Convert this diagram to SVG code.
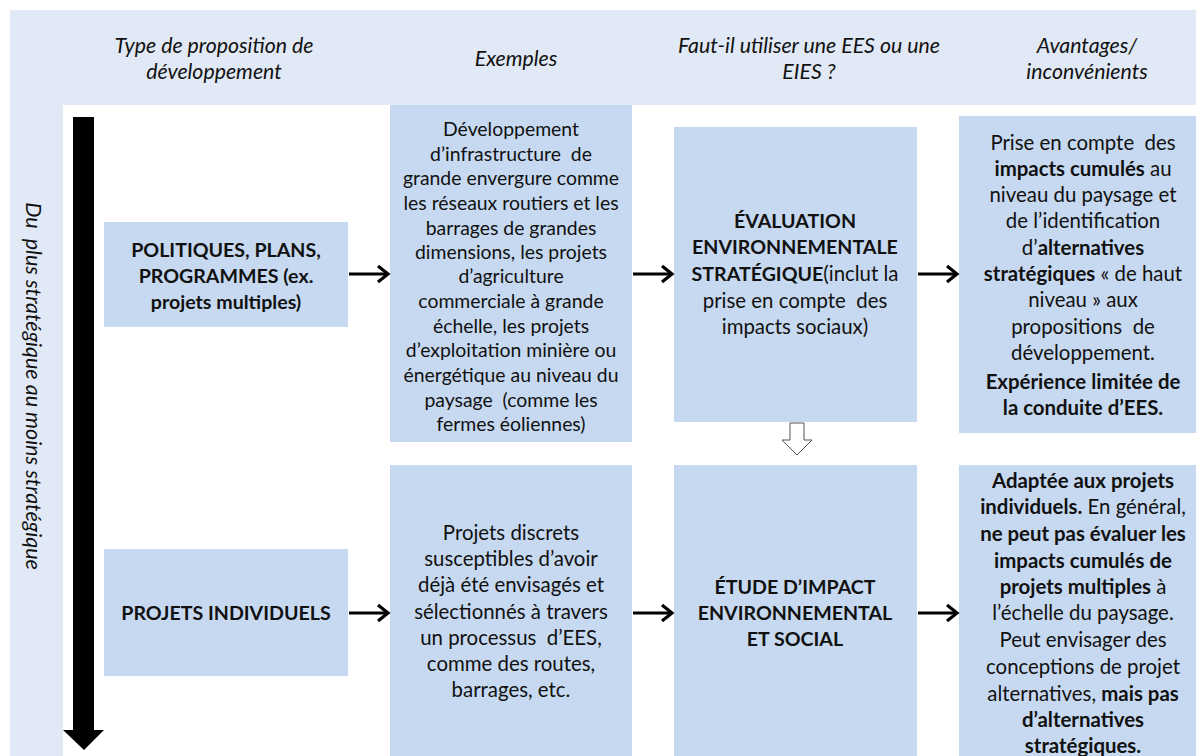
<svg xmlns="http://www.w3.org/2000/svg" width="1196" height="756" viewBox="0 0 1196 756">
<style>
.band{fill:#e1e9f6}
.box{fill:#c6d9f0}
text{font-family:Lato,"Open Sans","Liberation Sans",sans-serif;font-size:20.4px;fill:#111;text-anchor:middle}
.hd{font-style:italic;font-size:21.3px}
.rot{font-style:italic;font-size:21.5px}
.ex1 text{font-size:19.4px}
.b{font-weight:bold}
.lb{font-weight:bold;font-size:19.6px}
.conn{stroke:#000;stroke-width:3;fill:none}
</style>
<defs>
<marker id="chev" markerUnits="userSpaceOnUse" markerWidth="16" markerHeight="20" refX="13" refY="10" orient="auto" viewBox="0 0 16 20">
<path d="M3,2 L13,10 L3,18" fill="none" stroke="#000" stroke-width="3.2" stroke-linejoin="miter"/>
</marker>
</defs>
<rect width="1196" height="756" fill="#fff"/>
<g id="header">
<rect class="band" x="10" y="10" width="1186" height="95"/>
<rect class="band" x="10" y="10" width="53" height="746"/>
<text class="hd" x="214" y="53">Type de proposition de</text>
<text class="hd" x="214" y="79">développement</text>
<text class="hd" x="516" y="66">Exemples</text>
<text class="hd" x="809" y="53">Faut-il utiliser une EES ou une</text>
<text class="hd" x="809" y="79">EIES ?</text>
<text class="hd" x="1087" y="53">Avantages/</text>
<text class="hd" x="1087" y="79">inconvénients</text>
<text class="rot" xml:space="preserve" transform="translate(26,386) rotate(90)" x="0" y="0">Du  plus stratégique au moins stratégique</text>
</g>
<g id="axis-arrow">
<polygon points="73,117 94,117 94,730 104,730 84,750 63,730 73,730" fill="#000"/>
</g>
<g id="ppp">
<rect class="box" x="104" y="222" width="244" height="105"/>
<text class="lb" x="226" y="257">POLITIQUES, PLANS,</text>
<text class="lb" x="226" y="283">PROGRAMMES (ex.</text>
<text class="lb" x="226" y="309">projets multiples)</text>
</g>
<g id="ex1" class="ex1">
<rect class="box" x="390" y="105" width="242" height="337"/>
<text x="511" y="136">Développement</text>
<text x="511" y="161" xml:space="preserve">d’infrastructure  de</text>
<text x="511" y="185">grande envergure comme</text>
<text x="511" y="210">les réseaux routiers et les</text>
<text x="511" y="235">barrages de grandes</text>
<text x="511" y="259">dimensions, les projets</text>
<text x="511" y="283">d’agriculture</text>
<text x="511" y="308">commerciale à grande</text>
<text x="511" y="333">échelle, les projets</text>
<text x="511" y="357">d’exploitation minière ou</text>
<text x="511" y="382">énergétique au niveau du</text>
<text x="511" y="407" xml:space="preserve">paysage  (comme les</text>
<text x="511" y="431">fermes éoliennes)</text>
</g>
<g id="ees">
<rect class="box" x="674" y="127" width="243" height="295"/>
<text class="lb" x="795" y="228">ÉVALUATION</text>
<text class="lb" x="795" y="254">ENVIRONNEMENTALE</text>
<text x="795" y="281"><tspan class="lb">STRATÉGIQUE</tspan>(inclut la</text>
<text x="795" y="308" xml:space="preserve">prise en compte  des</text>
<text x="795" y="334">impacts sociaux)</text>
</g>
<g id="adv1">
<rect class="box" x="959" y="116" width="237" height="317"/>
<text x="1083" y="150" xml:space="preserve">Prise en compte  des</text>
<text x="1083" y="176"><tspan class="b">impacts cumulés</tspan> au</text>
<text x="1083" y="202">niveau du paysage et</text>
<text x="1083" y="228">de l’identification</text>
<text x="1083" y="255">d’<tspan class="b">alternatives</tspan></text>
<text x="1083" y="281"><tspan class="b">stratégiques</tspan> « de haut</text>
<text x="1083" y="307">niveau » aux</text>
<text x="1083" y="334" xml:space="preserve">propositions  de</text>
<text x="1083" y="360">développement.</text>
<text class="b" x="1083" y="389">Expérience limitée de</text>
<text class="b" x="1083" y="415">la conduite d’EES.</text>
</g>
<g id="pi">
<rect class="box" x="104" y="549" width="244" height="127"/>
<text class="lb" x="226" y="620">PROJETS INDIVIDUELS</text>
</g>
<g id="ex2">
<rect class="box" x="390" y="465" width="242" height="291"/>
<text x="511" y="540">Projets discrets</text>
<text x="511" y="566">susceptibles d’avoir</text>
<text x="511" y="592">déjà été envisagés et</text>
<text x="511" y="619">sélectionnés à travers</text>
<text x="511" y="645" xml:space="preserve">un processus  d’EES,</text>
<text x="511" y="671">comme des routes,</text>
<text x="511" y="697">barrages, etc.</text>
</g>
<g id="eies">
<rect class="box" x="674" y="465" width="243" height="291"/>
<text class="lb" x="795" y="594">ÉTUDE D’IMPACT</text>
<text class="lb" x="795" y="620">ENVIRONNEMENTAL</text>
<text class="lb" x="795" y="646">ET SOCIAL</text>
</g>
<g id="adv2">
<rect class="box" x="959" y="465" width="237" height="291"/>
<text class="b" x="1083" y="488">Adaptée aux projets</text>
<text x="1083" y="514"><tspan class="b">individuels.</tspan> En général,</text>
<text class="b" x="1083" y="541">ne peut pas évaluer les</text>
<text class="b" x="1083" y="568">impacts cumulés de</text>
<text x="1083" y="594"><tspan class="b">projets multiples</tspan> à</text>
<text x="1083" y="620">l’échelle du paysage.</text>
<text x="1083" y="647">Peut envisager des</text>
<text x="1083" y="674">conceptions de projet</text>
<text x="1083" y="701">alternatives, <tspan class="b">mais pas</tspan></text>
<text class="b" x="1083" y="727">d’alternatives</text>
<text class="b" x="1083" y="753">stratégiques.</text>
</g>
<g id="connectors">
<line class="conn" x1="349" y1="274" x2="388" y2="274" marker-end="url(#chev)"/>
<line class="conn" x1="633" y1="274" x2="672" y2="274" marker-end="url(#chev)"/>
<line class="conn" x1="918" y1="274" x2="957" y2="274" marker-end="url(#chev)"/>
<line class="conn" x1="349" y1="613" x2="388" y2="613" marker-end="url(#chev)"/>
<line class="conn" x1="633" y1="613" x2="672" y2="613" marker-end="url(#chev)"/>
<line class="conn" x1="918" y1="613" x2="957" y2="613" marker-end="url(#chev)"/>
<polygon points="790,423 804,423 804,440 812,440 797,455 782,440 790,440" fill="#fff" stroke="#555" stroke-width="1"/>
</g>
</svg>
